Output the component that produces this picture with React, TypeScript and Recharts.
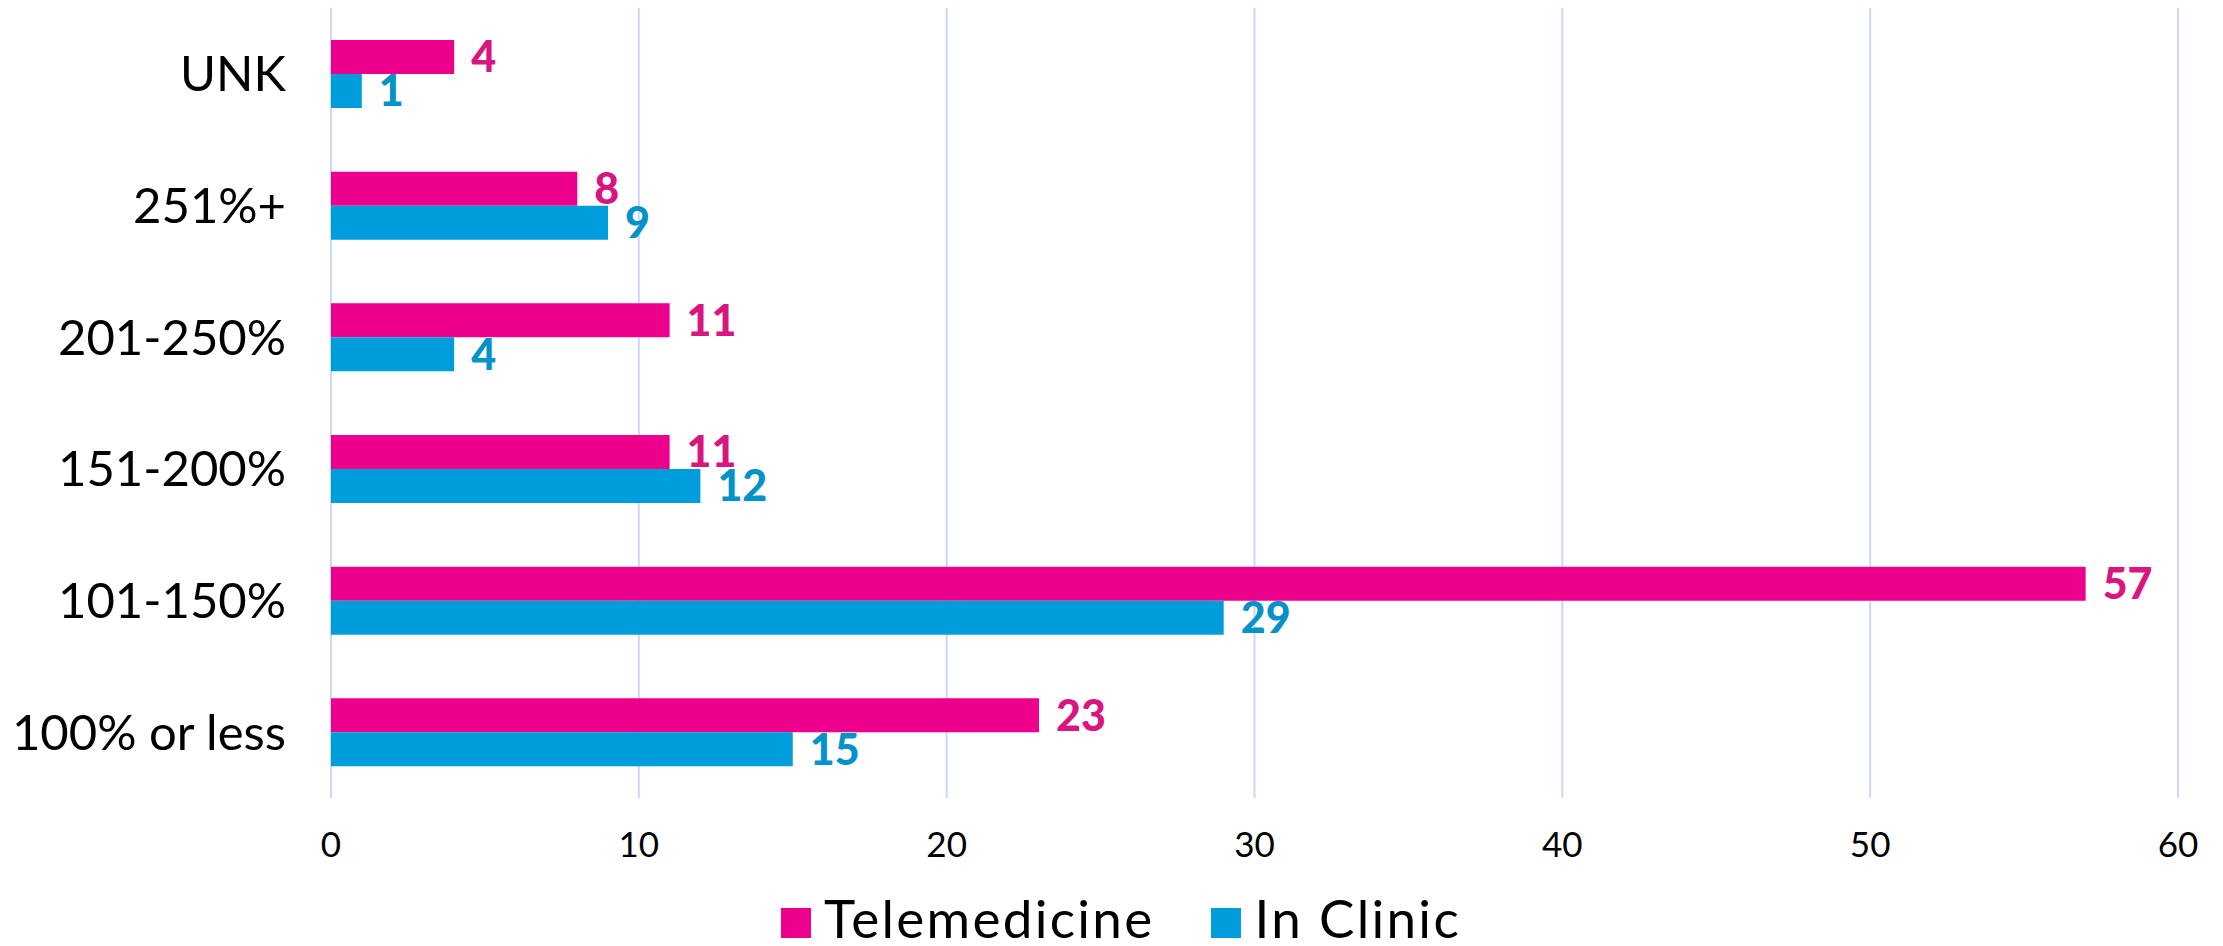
import { BarChart, Bar, XAxis, YAxis, CartesianGrid, Legend, LabelList } from "recharts";

const categories = ["UNK", "251%+", "201-250%", "151-200%", "101-150%", "100% or less"];
const telemedicine = [4, 8, 11, 11, 57, 23];
const inClinic = [1, 9, 4, 12, 29, 15];
const xTicks = [0, 10, 20, 30, 40, 50, 60];

const PINK = "#EC008C";
const BLUE = "#009DDC";
const PINK_LABEL = "#D9167F";
const BLUE_LABEL = "#0592C9";
const FONT = "Lato, 'Open Sans', sans-serif";

const data = categories.map((name, i) => ({
  name,
  telemedicine: telemedicine[i],
  inClinic: inClinic[i],
}));

function LegendContent() {
  const items = [
    { label: "Telemedicine", color: PINK },
    { label: "In Clinic", color: BLUE },
  ];
  return (
    <div
      style={{
        display: "flex",
        justifyContent: "center",
        alignItems: "flex-end",
        gap: 57,
        height: 60,
        fontFamily: FONT,
        fontSize: 53,
        letterSpacing: 2.3,
        color: "#000",
        paddingLeft: 64,
      }}
    >
      {items.map((it) => (
        <div key={it.label} style={{ display: "flex", alignItems: "baseline", lineHeight: "56px" }}>
          <span
            style={{
              display: "inline-block",
              width: 30,
              height: 30,
              background: it.color,
              marginRight: 13,
            }}
          />
          <span>{it.label}</span>
        </div>
      ))}
    </div>
  );
}

export default function App() {
  return (
    <div style={{ position: "absolute", left: 0, top: 0, background: "#fff" }}>
      <BarChart
        width={2223}
        height={946}
        data={data}
        layout="vertical"
        margin={{ top: 8, right: 45, bottom: 0, left: 0 }}
        barSize={34}
        barGap={0}
      >
        <CartesianGrid horizontal={false} stroke="#C9D8F6" strokeWidth={2} />
        <XAxis
          type="number"
          domain={[0, 60]}
          ticks={xTicks}
          axisLine={false}
          tickLine={false}
          tickSize={0}
          tickMargin={34}
          height={88}
          tick={{ fill: "#000", fontSize: 35, fontFamily: FONT }}
        />
        <YAxis
          type="category"
          dataKey="name"
          axisLine={false}
          tickLine={false}
          tickSize={0}
          tickMargin={45}
          width={331}
          tick={{ fill: "#000", fontSize: 49, fontFamily: FONT }}
        />
        <Legend verticalAlign="bottom" height={60} content={<LegendContent />} />
        <Bar dataKey="telemedicine" name="Telemedicine" fill={PINK} isAnimationActive={false}>
          <LabelList
            dataKey="telemedicine"
            position="right"
            offset={17}
            fill={PINK_LABEL}
            style={{ fontSize: 43, fontWeight: 900, fontFamily: FONT }}
          />
        </Bar>
        <Bar dataKey="inClinic" name="In Clinic" fill={BLUE} isAnimationActive={false}>
          <LabelList
            dataKey="inClinic"
            position="right"
            offset={17}
            fill={BLUE_LABEL}
            style={{ fontSize: 43, fontWeight: 900, fontFamily: FONT }}
          />
        </Bar>
      </BarChart>
    </div>
  );
}
